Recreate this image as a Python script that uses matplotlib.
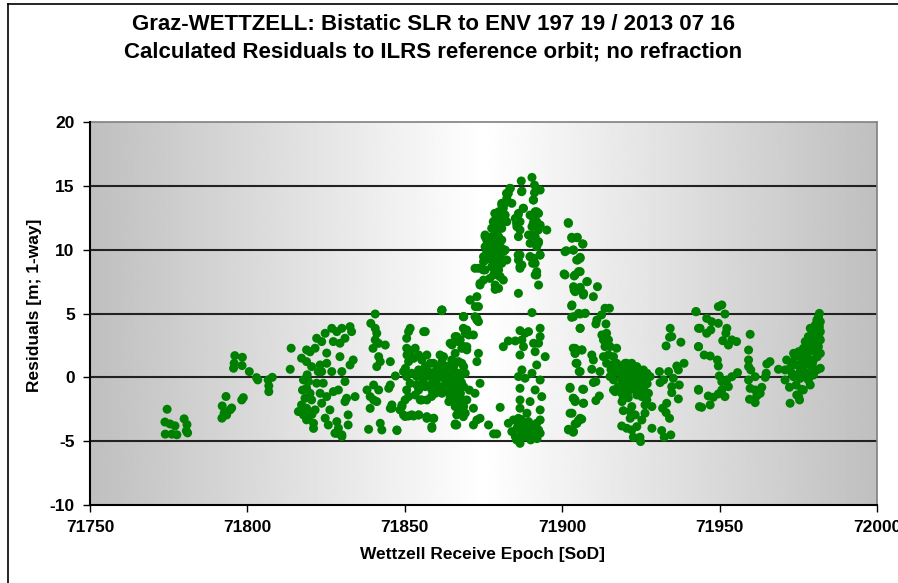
import numpy as np
import matplotlib.pyplot as plt
from matplotlib.lines import Line2D

plt.rcParams['font.family'] = ['Liberation Sans', 'DejaVu Sans']
plt.rcParams['font.weight'] = 'bold'
plt.rcParams['axes.unicode_minus'] = False

title1 = "Graz-WETTZELL: Bistatic SLR to ENV 197 19 / 2013 07 16"
title2 = "Calculated Residuals to ILRS reference orbit; no refraction"
xlabel = "Wettzell Receive Epoch [SoD]"
ylabel = "Residuals [m; 1-way]"
xticks = [71750, 71800, 71850, 71900, 71950, 72000]
yticks = [-10, -5, 0, 5, 10, 15, 20]

# residuals, grouped by pass segment
seg_a_x = [71774.5, 71773.8, 71775.4, 71777.0, 71779.9, 71780.8, 71780.6, 71773.9, 71776.0, 71777.6, 71781.0]
seg_a_y = [-2.5, -3.5, -3.65, -3.8, -3.25, -3.7, -4.2, -4.45, -4.45, -4.5, -4.35]

seg_b_x = [71793.2, 71792.0, 71792.6, 71791.9, 71793.4, 71794.5, 71795.0, 71798.2, 71798.7,
           71796.0, 71798.4, 71795.8, 71798.3, 71795.6, 71800.6, 71802.9, 71803.3, 71806.6,
           71807.9, 71806.8, 71806.8, 71813.9, 71813.6]
seg_b_y = [-1.5, -2.24, -2.8, -3.2, -2.95, -2.55, -2.4, -1.77, -1.59,
           1.7, 1.57, 1.1, 0.92, 0.71, 0.45, -0.02, -0.2, -0.2,
           0.0, -0.67, -1.12, 2.28, 0.63]

seg_c_x = [71818.8, 71819.9, 71821.5, 71822.0, 71823.6, 71824.7, 71826.8, 71828.4, 71830.0, 71832.6,
           71833.1, 71831.0, 71829.4, 71827.3, 71825.2, 71817.2, 71818.8, 71820.4, 71823.1, 71825.2,
           71823.6, 71826.8, 71829.4, 71830.0, 71832.6, 71833.6, 71817.8, 71819.4, 71818.8, 71819.9,
           71818.3, 71820.4, 71817.2, 71818.8, 71816.7, 71817.8, 71819.4, 71821.0, 71818.8, 71824.1,
           71823.1, 71825.2, 71827.3, 71828.9, 71823.6, 71826.2, 71824.7, 71825.7, 71828.4, 71828.9,
           71830.0, 71827.8, 71832.0, 71832.0, 71831.0, 71831.5, 71834.2, 71831.0, 71821.5, 71822.0,
           71822.5, 71830.0, 71828.4, 71816.2, 71821.0, 71820.5, 71817.5, 71819.0]
seg_c_y = [2.15, 2.0, 2.28, 3.06, 2.8, 3.45, 3.84, 3.58, 3.84, 3.97,
           3.58, 3.06, 2.67, 2.8, 1.9, 1.5, 1.23, 0.84, 0.97, 1.1,
           0.45, 0.45, 1.62, 0.45, 0.97, 1.36, -0.2, -0.33, -0.85, -1.25,
           -1.64, -1.77, -2.16, -2.42, -2.68, -2.94, -3.08, -3.59, -3.33, -0.46,
           -1.25, -1.51, -1.12, -0.99, -2.03, -2.55, -3.2, -3.73, -3.47, -3.98,
           -4.5, -4.38, -3.73, -2.94, -1.9, -1.64, -1.51, -0.33, -2.55, -0.46,
           0.45, -4.64, -4.38, -2.68, -4.0, -2.9, -1.0, 0.2]

seg_d_x = [71840.6, 71839.2, 71840.6, 71841.1, 71840.6, 71841.7, 71839.9, 71843.8, 71841.7, 71842.2,
           71845.4, 71841.1, 71847.0, 71838.0, 71840.1, 71841.7, 71839.0, 71840.1, 71841.1, 71844.9,
           71845.4, 71839.0, 71838.5, 71842.2, 71842.7, 71847.5, 71845.4, 71845.9, 71850.2, 71851.2,
           71850.7, 71856.0, 71849.6, 71851.2, 71852.8, 71854.4, 71857.0, 71859.2, 71858.6, 71866.0,
           71861.8, 71870.8, 71872.4, 71868.7, 71872.9]
seg_d_y = [4.96, 4.23, 3.84, 3.45, 2.93, 2.66, 2.27, 2.53, 1.62, 1.23,
           1.23, 0.84, 0.11, -0.99, -0.6, -0.99, -1.51, -1.77, -1.9, -0.86,
           -0.6, -2.43, -4.07, -3.6, -4.12, -4.17, -2.43, -2.16, 0.71, 2.14,
           1.75, 3.58, -2.95, -3.03, -3.03, -2.95, -3.08, -3.21, -3.86, -3.65,
           5.27, 6.06, 5.54, 4.75, 4.62]

seg_e_x = [71851.2, 71851.7, 71850.6, 71856.5, 71850.6, 71851.7, 71851.2, 71853.3, 71852.8, 71849.6,
           71850.6, 71852.2, 71851.7, 71850.6, 71851.2, 71850.1, 71849.1, 71848.5, 71854.4, 71855.4,
           71857.0, 71856.5, 71858.1, 71854.4, 71853.8, 71855.9, 71858.1, 71859.7, 71861.2, 71861.8,
           71860.7, 71862.3, 71863.9, 71865.5, 71865.0, 71863.4, 71861.8, 71859.7, 71858.1, 71856.5,
           71854.4, 71853.3, 71854.9, 71857.0, 71859.7, 71861.8, 71863.9, 71865.5, 71864.4, 71866.5,
           71867.6, 71866.0, 71868.1, 71866.5, 71869.2, 71869.7, 71868.7, 71867.6, 71868.7, 71867.1,
           71866.0, 71865.0, 71866.5, 71867.6, 71868.7, 71869.7, 71870.3, 71852.2, 71850.1, 71854.4,
           71857.0, 71859.1, 71858.6, 71866.5, 71855.4, 71847.5, 71845.9, 71849.1, 71861.8, 71868.7,
           71869.7, 71855.9, 71860.2, 71862.8, 71864.4, 71866.0, 71859.1, 71863.4, 71861.2, 71857.5,
           71855.4, 71853.8, 71858.6, 71860.7, 71862.8, 71865.0, 71866.5, 71867.6, 71868.7, 71867.1,
           71866.0, 71862.3, 71863.3, 71861.7, 71862.8, 71864.4, 71865.4, 71866.5, 71867.6, 71868.6,
           71866.0, 71867.0, 71868.1, 71869.2, 71864.4, 71866.0, 71867.0, 71868.1, 71868.6, 71869.2,
           71869.7, 71864.9, 71865.4, 71867.6, 71868.6, 71863.9, 71871.8, 71872.9, 71873.4, 71872.9,
           71873.9, 71872.3, 71871.8, 71872.9, 71871.8, 71873.9, 71876.6, 71878.2, 71879.2, 71880.3,
           71866.0, 71857.0, 71860.0, 71863.0, 71865.5, 71868.0, 71870.5, 71858.5, 71862.5, 71864.0]
seg_e_y = [3.58, 3.84, 3.06, 3.58, 2.28, 1.88, 1.23, 2.28, 1.49, 0.45,
           0.06, 0.32, -0.47, -0.99, -1.51, -1.77, -2.29, -2.55, 1.75, 1.36,
           1.75, 0.84, 1.1, 0.58, 0.06, 0.19, 0.06, 0.45, 1.75, 1.23,
           0.84, 0.32, 0.45, 0.84, -0.2, -0.47, -0.73, -0.47, -0.6, -0.73,
           -0.99, -1.38, -1.77, -1.77, -1.25, -1.25, -1.12, -0.99, -1.51, -1.51,
           -2.03, -2.29, -2.55, -2.94, -2.81, -1.77, -0.73, 0.06, 0.84, 1.23,
           1.88, 2.54, 3.19, 2.93, 2.41, 2.15, 3.32, -2.94, -3.07, -2.94,
           -3.21, -3.21, -3.99, -3.73, -1.77, -4.12, -2.42, -2.16, 5.28, 4.76,
           3.71, -0.2, -0.07, -0.07, 0.06, -0.33, 1.1, 0.84, 0.45, 0.45,
           -0.6, -0.6, -0.99, -0.99, -0.86, -0.73, -0.86, -1.25, -2.29, -2.55,
           -1.77, 1.62, 0.84, 0.06, -0.73, -1.25, -1.77, -2.29, -2.82, -3.08,
           -0.21, 0.32, 1.1, 0.32, 2.67, 3.19, 2.8, 2.27, 3.84, 3.45,
           2.4, 1.36, -0.73, -1.25, -1.77, 0.32, 3.32, 4.49, 1.88, 1.23,
           -0.47, -1.25, -2.42, -3.34, -3.73, -3.21, -3.73, -4.43, -4.43, -2.35,
           -3.73, 0.3, -0.3, -0.3, 0.5, -0.4, -1.0, -1.5, 0.9, -1.9]

seg_peak_x = [71887.0, 71890.4, 71891.2, 71893.0, 71887.2, 71891.2, 71890.9, 71883.5, 71882.9, 71882.4,
              71884.0, 71880.8, 71881.3, 71879.8, 71878.7, 71880.3, 71878.7, 71879.8, 71881.9, 71882.4,
              71878.2, 71879.2, 71880.8, 71875.5, 71876.0, 71877.6, 71879.8, 71880.3, 71875.5, 71877.1,
              71878.7, 71880.8, 71881.9, 71876.0, 71878.2, 71879.8, 71875.0, 71877.6, 71880.8, 71882.4,
              71878.7, 71875.0, 71872.3, 71873.4, 71875.5, 71878.2, 71879.8, 71878.2, 71880.3, 71881.3,
              71875.0, 71873.9, 71878.7, 71879.8, 71878.7, 71886.1, 71872.9, 71870.7, 71873.4, 71861.7,
              71868.6, 71872.3, 71873.4, 71890.4,
              71886.1, 71885.1, 71886.6, 71885.6, 71886.6, 71887.7, 71886.1, 71889.3, 71891.4, 71892.5,
              71890.9, 71891.9, 71893.0, 71895.1, 71890.4, 71891.4, 71892.5, 71889.8, 71891.9, 71886.6,
              71886.1, 71887.2, 71886.6, 71889.8, 71890.9, 71893.0, 71891.4, 71891.9, 71891.4, 71892.5,
              71883.4, 71882.3, 71881.8, 71880.8, 71878.6, 71879.7, 71881.3, 71878.1, 71880.2, 71877.6,
              71875.5, 71879.2, 71880.8, 71878.1, 71876.0, 71879.7, 71881.3, 71877.6, 71879.2, 71880.8,
              71875.5, 71874.9, 71877.6, 71878.6, 71880.2, 71877.0, 71873.9, 71886.0, 71886.6, 71886.0,
              71885.5, 71890.3, 71891.9, 71890.8, 71892.4, 71892.4, 71889.8, 71892.9, 71891.9, 71890.6,
              71887.6, 71887.1, 71891.9, 71890.8, 71889.8]
seg_peak_y = [15.38, 15.66, 15.06, 14.67, 14.59, 14.46, 13.89, 14.8, 14.41, 14.02,
              13.63, 13.63, 13.24, 12.97, 12.84, 12.58, 12.32, 12.19, 12.71, 12.19,
              11.67, 11.8, 11.67, 11.15, 10.76, 11.02, 11.02, 10.63, 10.23, 10.23,
              10.36, 10.1, 9.97, 9.84, 9.71, 9.45, 9.45, 9.19, 9.19, 9.19,
              8.93, 9.06, 8.54, 8.54, 8.41, 8.54, 8.41, 8.02, 7.89, 7.62,
              7.62, 7.23, 7.23, 6.97, 6.89, 6.58, 6.32, 6.06, 5.54, 5.22,
              4.75, 4.75, 4.36, 5.07,
              12.84, 12.45, 12.19, 11.8, 11.54, 13.24, 11.02, 11.15, 12.97, 12.84,
              12.45, 12.19, 11.93, 11.54, 11.8, 11.02, 10.63, 10.5, 10.23, 9.58,
              9.19, 8.8, 8.54, 9.45, 9.32, 9.58, 8.93, 8.28, 8.02, 7.23,
              14.8, 14.41, 13.63, 13.5, 12.84, 12.45, 12.84, 12.19, 11.93, 11.67,
              11.02, 11.28, 10.76, 10.5, 10.1, 10.1, 9.84, 9.58, 9.19, 8.93,
              9.19, 8.41, 8.67, 8.15, 7.89, 7.75, 7.36, 9.58, 8.67, 12.71,
              12.06, 11.15, 12.97, 12.06, 11.54, 10.5, 9.45, 9.58, 8.02, 8.93,
              13.24, 14.54, 14.67, 13.89, 12.71]

seg_low_x = [71881.3, 71882.9, 71885.1, 71886.6, 71888.2, 71889.3, 71887.2, 71887.7, 71886.6, 71890.9,
             71893.0, 71893.0, 71892.5, 71891.4, 71894.6, 71891.9, 71890.4, 71887.2, 71886.1, 71888.2,
             71893.0, 71886.6, 71891.4, 71893.5, 71886.6, 71889.8, 71886.6, 71888.8, 71893.0, 71884.5,
             71882.9, 71886.1, 71887.7, 71889.3, 71890.9, 71893.0, 71892.5, 71885.6, 71887.2, 71888.8,
             71890.4, 71886.6, 71888.2, 71889.8, 71891.4, 71886.6, 71885.1, 71887.7, 71889.3, 71891.9,
             71886.1, 71893.0, 71884.0, 71888.0, 71890.0, 71887.0, 71889.0, 71891.0, 71885.5, 71892.0]
seg_low_y = [2.4, 2.85, 2.85, 3.66, 3.45, 3.58, 2.93, 2.4, 1.75, 2.67,
             3.84, 3.19, 2.67, 2.01, 1.62, 0.97, 0.32, 0.58, 0.06, -0.07,
             -0.21, -0.86, -0.99, -1.51, -1.77, -1.9, -2.42, -2.81, -2.55, -3.34,
             -3.6, -3.21, -3.6, -3.47, -3.86, -3.34, -4.12, -3.99, -4.25, -4.12,
             -4.38, -4.77, -4.64, -4.77, -4.64, -5.17, -4.64, -3.86, -3.86, -3.6,
             -3.73, -4.38, -4.25, -4.4, -4.9, -3.3, -4.5, -4.2, -4.9, -4.8]

seg_f_x = [71902.0, 71903.1, 71904.7, 71906.6, 71901.3, 71903.6, 71905.7, 71904.9, 71900.9, 71904.1,
           71905.2, 71907.8, 71903.6, 71905.7, 71904.1, 71906.8, 71903.1, 71903.6, 71905.2, 71907.3,
           71905.7, 71904.1, 71906.3, 71904.1, 71904.7, 71905.7, 71902.5, 71906.8, 71903.6, 71904.1,
           71906.8, 71903.1, 71905.7, 71904.7, 71902.0, 71903.6,
           71901.9, 71903.0, 71904.8, 71906.5, 71900.9, 71903.5, 71904.6, 71905.7, 71900.6, 71903.8,
           71905.7, 71903.8, 71905.7, 71908.0, 71906.7, 71909.9, 71911.2, 71903.0, 71903.0, 71905.7,
           71907.3, 71905.7, 71913.6, 71915.0, 71912.5, 71911.0, 71910.7, 71913.9,
           71903.5, 71904.1, 71906.2, 71904.4, 71905.4, 71909.4, 71909.9, 71909.4, 71912.0, 71902.5,
           71906.5, 71903.5, 71904.1, 71906.7, 71909.9, 71910.7, 71910.7, 71911.8, 71902.5, 71905.1,
           71906.2, 71904.1, 71902.0, 71903.5]
seg_f_y = [12.06, 10.89, 10.94, 10.44, 9.92, 9.97, 9.32, 9.19, 8.02, 8.02,
           8.28, 7.49, 7.1, 6.97, 6.71, 6.58, 5.67, 4.75, 5.01, 5.01,
           3.84, 2.27, 2.14, 1.88, 1.1, 0.45, -0.86, -0.94, -1.64, -1.9,
           -2.03, -2.81, -3.21, -3.6, -4.07, -4.25,
           12.12, 10.97, 10.97, 10.45, 9.84, 9.97, 9.19, 9.4, 8.1, 7.94,
           8.28, 6.84, 7.05, 7.5, 6.45, 6.32, 7.1, 5.59, 4.7, 4.96,
           5.02, 3.84, 5.41, 5.41, 4.89, 4.49, 4.18, 4.18,
           2.28, 1.88, 2.15, 1.1, 0.45, 1.75, 1.36, 0.63, 0.45, -0.78,
           -0.93, -1.64, -1.77, -2.03, -0.41, -0.33, -1.82, -1.46, -2.81, -3.39,
           -3.28, -3.65, -4.12, -4.3]

seg_g_x = [71912.6, 71914.1, 71913.1, 71914.7, 71913.6, 71915.2, 71917.3, 71913.1, 71914.7, 71916.3,
           71914.1, 71915.7, 71917.3, 71918.9, 71920.5, 71922.1, 71923.7, 71925.8, 71916.8, 71918.4,
           71920.5, 71922.6, 71924.7, 71926.9, 71927.9, 71915.2, 71916.3, 71918.9, 71921.0, 71923.2,
           71925.8, 71917.8, 71920.0, 71922.1, 71924.2, 71916.8, 71918.9, 71921.0, 71926.3, 71927.4,
           71925.3, 71926.9, 71928.5, 71926.3, 71919.4, 71923.7, 71919.4, 71922.1, 71921.6, 71923.2,
           71925.3, 71926.3, 71918.9, 71920.5, 71922.1, 71923.7, 71922.6, 71924.7, 71924.9, 71928.5,
           71921.6, 71916.3, 71920.0, 71922.1, 71919.5, 71921.5, 71924.0, 71917.5, 71920.0, 71923.0,
           71925.0, 71919.0, 71921.0, 71918.0, 71915.5, 71922.5, 71924.5, 71927.0]
seg_g_y = [3.32, 3.45, 2.93, 2.93, 2.41, 2.41, 2.28, 1.62, 1.75, 1.62,
           1.1, 0.97, 1.1, 0.84, 1.1, 1.1, 0.84, 0.58, 0.45, 0.32,
           0.45, 0.32, 0.19, 0.32, 0.06, 0.06, -0.2, -0.2, -0.33, -0.33,
           -0.2, -0.73, -0.86, -0.73, -0.86, -1.12, -1.25, -1.12, -1.12, -1.25,
           -1.51, -1.77, -2.29, -2.16, -1.64, -1.38, -2.61, -2.29, -3.21, -2.94,
           -3.34, -2.81, -3.81, -3.99, -4.12, -3.86, -4.69, -4.69, -5.03, -3.99,
           -2.68, -0.99, 1.1, 0.71, 0.1, -0.1, 0.0, 0.7, -0.4, 0.5,
           -0.6, -1.9, -1.6, 0.9, 0.6, -0.9, -0.3, -0.5]

seg_h_x = [71942.5, 71934.3, 71934.8, 71934.1, 71933.0, 71937.7, 71930.9, 71933.8, 71936.4, 71938.7,
           71936.9, 71932.2, 71935.3, 71937.2, 71934.8, 71934.8, 71936.9, 71933.2, 71931.9, 71933.0,
           71934.1, 71931.6, 71932.4, 71934.5, 71943.3, 71943.3, 71943.3, 71943.6, 71931.1]
seg_h_y = [5.15, 3.84, 3.19, 3.14, 2.46, 2.75, 0.45, 0.45, 0.89, 1.1,
           0.58, -0.2, -0.07, -0.6, -0.73, -1.2, -1.69, -2.03, -2.42, -2.76,
           -3.21, -4.17, -4.69, -4.51, 3.84, 2.41, -1.01, -2.29, -0.41]

seg_i_x = [71942.5, 71949.6, 71950.7, 71951.7, 71945.9, 71947.5, 71949.6, 71943.8, 71945.9, 71947.2,
           71952.3, 71952.0, 71951.0, 71952.8, 71953.9, 71955.4, 71959.7, 71943.3, 71945.1, 71947.0,
           71949.3, 71949.6, 71959.2, 71959.2, 71959.2, 71959.9, 71961.3, 71965.0, 71966.0, 71964.8,
           71964.5, 71955.7, 71953.9, 71949.9, 71950.7, 71952.3, 71952.8, 71950.7, 71949.6, 71951.7,
           71943.3, 71946.4, 71948.0, 71947.0, 71944.3, 71959.2, 71959.7, 71961.3, 71963.4, 71962.9,
           71961.8, 71959.5, 71961.3, 71962.3]
seg_i_y = [5.14, 5.54, 5.67, 4.96, 4.62, 4.36, 4.23, 3.84, 3.45, 3.71,
           3.84, 3.45, 2.87, 2.53, 2.93, 2.8, 3.37, 2.4, 1.75, 1.67,
           1.36, 0.89, 2.14, 1.36, 0.84, 0.58, 0.05, 1.05, 1.23, 0.32,
           0.0, 0.37, 0.05, 0.11, -0.34, -0.21, -0.73, -0.99, -1.3, -1.51,
           -0.94, -1.46, -1.56, -2.16, -2.35, -0.21, -0.86, -0.99, -0.78, -1.25,
           -1.46, -1.72, -1.98, -1.3]

seg_j_x = [71981.7, 71981.4, 71980.9, 71982.0, 71980.4, 71981.7, 71978.8, 71979.8, 71982.0, 71978.2,
           71980.4, 71982.0, 71977.2, 71979.3, 71981.4, 71976.6, 71978.2, 71980.4, 71982.0, 71975.1,
           71974.0, 71976.1, 71978.2, 71979.8, 71971.3, 71972.9, 71974.5, 71976.6, 71978.8, 71980.9,
           71982.0, 71968.7, 71970.8, 71972.4, 71975.6, 71977.7, 71979.8, 71970.8, 71973.5, 71975.6,
           71978.2, 71978.8, 71972.2, 71974.3, 71976.1, 71974.5, 71975.4, 71972.4, 71976.6, 71975.1,
           71973.5, 71977.5, 71979.3, 71981.0, 71980.0, 71981.5, 71979.0, 71977.0, 71980.5, 71978.0,
           71976.0, 71973.0, 71981.0, 71979.5]
seg_j_y = [5.01, 4.75, 4.49, 4.36, 4.1, 3.97, 3.84, 3.58, 3.58, 3.19,
           3.06, 2.93, 2.8, 2.53, 2.4, 2.27, 2.01, 2.01, 1.88, 2.01,
           1.62, 1.49, 1.49, 1.36, 1.36, 1.15, 0.97, 0.84, 0.97, 0.58,
           0.71, 0.63, 0.58, 0.71, 0.45, 0.32, 0.18, -0.21, 0.05, -0.08,
           -0.21, -0.6, -0.78, -0.6, -0.94, -1.38, -1.77, -2.03, -0.99, -1.51,
           1.88, 1.67, 0.84, 4.2, 3.3, 3.2, 2.8, 1.2, 2.6, 2.4,
           1.9, 0.3, 1.6, 1.1]

epoch = np.array(seg_a_x + seg_b_x + seg_c_x + seg_d_x + seg_e_x + seg_peak_x + seg_low_x
                 + seg_f_x + seg_g_x + seg_h_x + seg_i_x + seg_j_x)
resid = np.array(seg_a_y + seg_b_y + seg_c_y + seg_d_y + seg_e_y + seg_peak_y + seg_low_y
                 + seg_f_y + seg_g_y + seg_h_y + seg_i_y + seg_j_y)

fig = plt.figure(figsize=(8.98, 5.83), dpi=100)
ax = fig.add_axes([90/898, 1-505/583, 787/898, 383/583])

# grey -> white -> grey background like the excel plot area
grad = 1 - 0.25*np.abs(np.linspace(-1, 1, 400))
ax.imshow(grad[None, :], cmap='gray', vmin=0, vmax=1, aspect='auto',
          extent=[71750, 72000, -10, 20], zorder=0)

for yv in [-5, 0, 5, 10, 15]:
    ax.axhline(yv, color='#222222', lw=1.5, zorder=1)

ax.scatter(epoch, resid, s=42, color='#008000', edgecolors='none', zorder=3)

ax.set_xlim(71750, 72000)
ax.set_ylim(-10, 20)
ax.set_xticks(xticks)
ax.set_yticks(yticks)
ax.tick_params(direction='out', length=5, width=1, labelsize=12.5, pad=6)
for s in ['left', 'bottom']:
    ax.spines[s].set_linewidth(1.5)
    ax.spines[s].set_zorder(4)
for s in ['top', 'right']:
    ax.spines[s].set_color('#808080')
    ax.spines[s].set_linewidth(1.2)

fig.text(433/898, 1-24/583, title1, ha='center', va='center', fontsize=16, weight='bold')
fig.text(433/898, 1-52/583, title2, ha='center', va='center', fontsize=16, weight='bold')
fig.text(483/898, 1-554/583, xlabel, ha='center', va='center', fontsize=12.5, weight='bold')
fig.text(35/898, 1-305/583, ylabel, ha='center', va='center', fontsize=12.5, weight='bold', rotation=90)

# chart area border (cut by the image edge on right and bottom)
fig.add_artist(Line2D([8/898, 8/898], [0, 1-4/583], transform=fig.transFigure, color='black', lw=1.2))
fig.add_artist(Line2D([8/898, 1], [1-4/583, 1-4/583], transform=fig.transFigure, color='black', lw=1.2))

fig.savefig('out.png', dpi=100)
